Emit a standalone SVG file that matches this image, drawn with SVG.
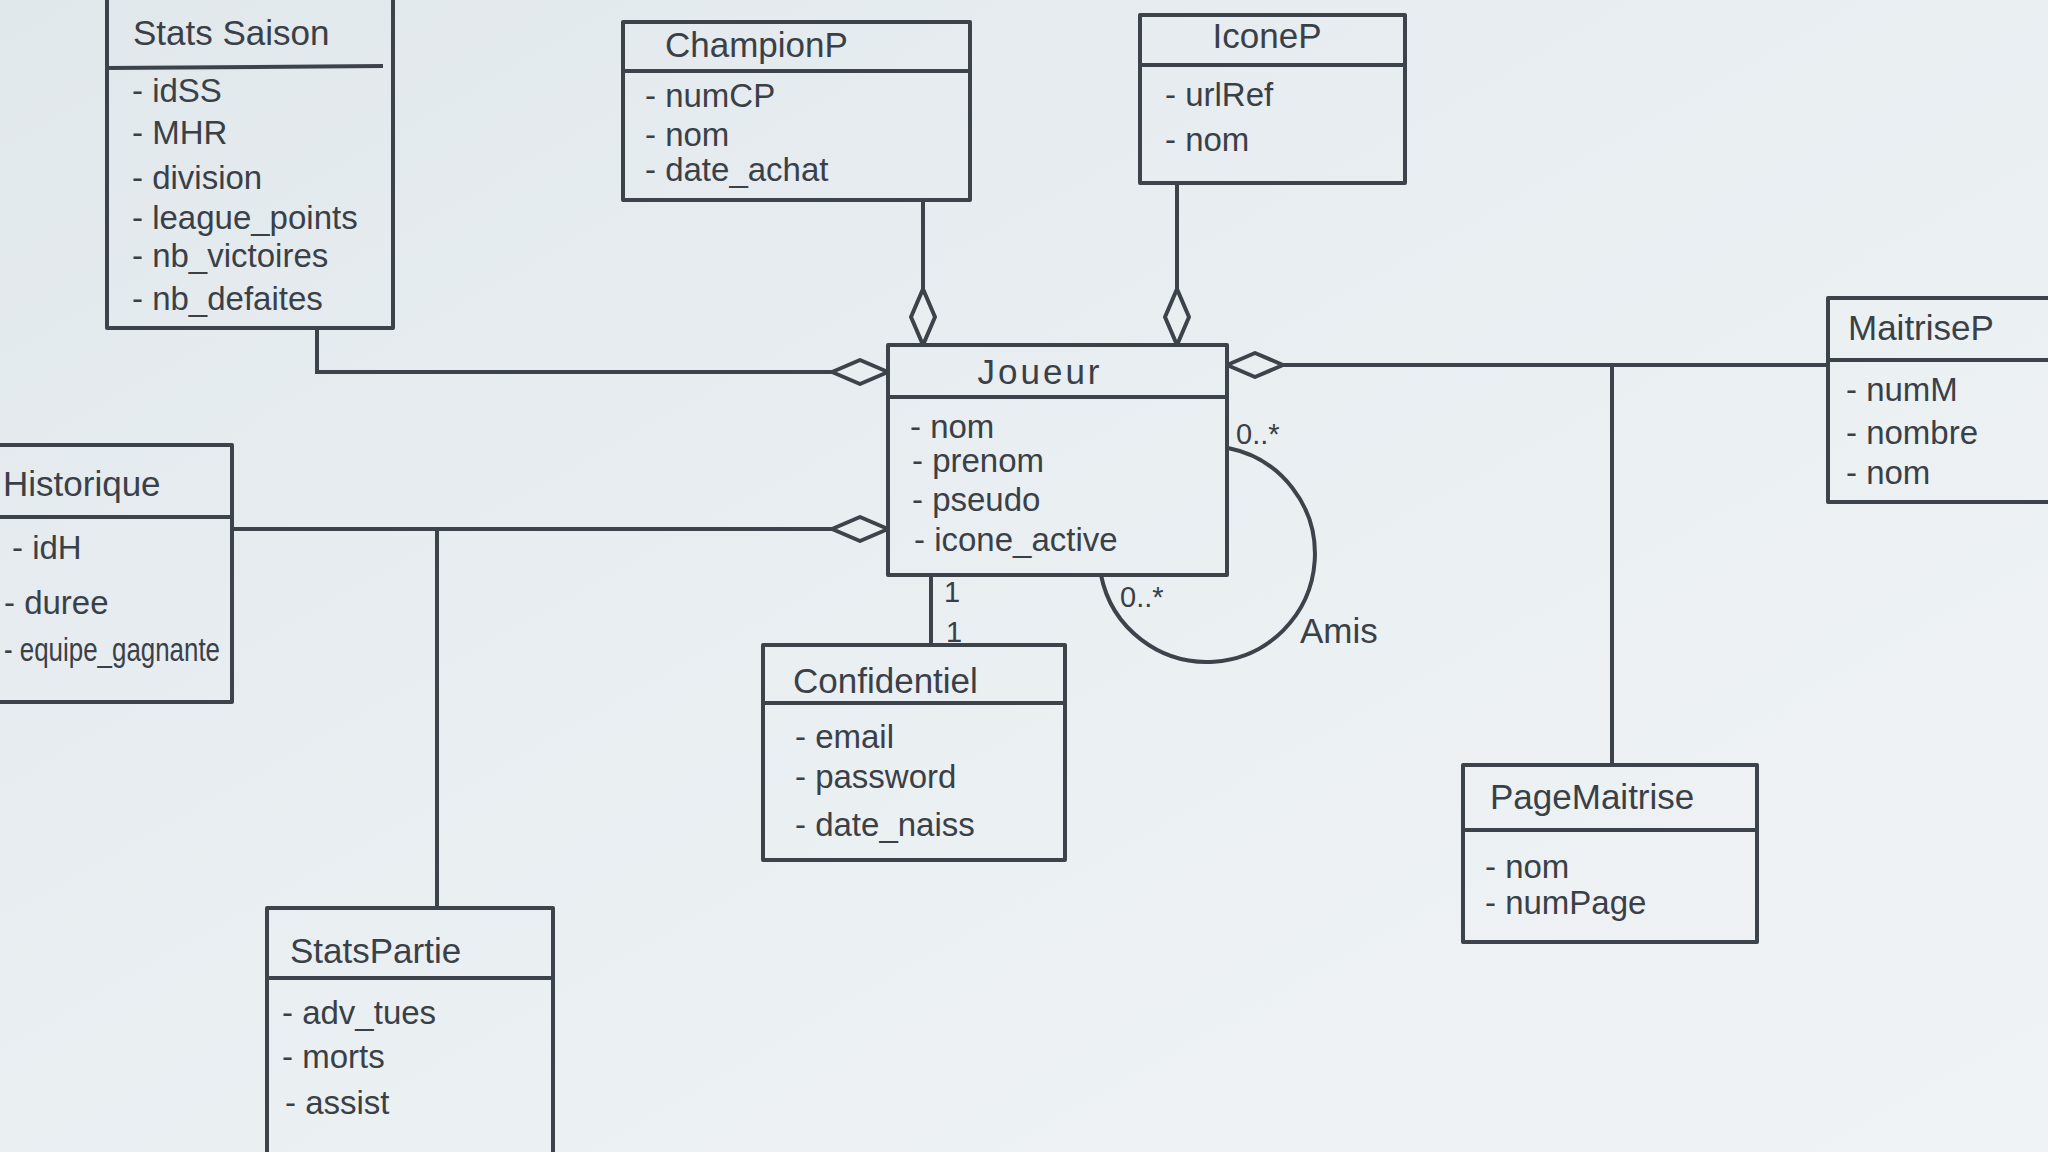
<svg xmlns="http://www.w3.org/2000/svg" width="2048" height="1152" viewBox="0 0 2048 1152">
<defs>
<linearGradient id="bg" x1="0" y1="0" x2="1" y2="1">
<stop offset="0" stop-color="#e1e8ec"/>
<stop offset="0.6" stop-color="#ebf0f3"/>
<stop offset="1" stop-color="#f0f3f5"/>
</linearGradient>
<marker id="agg" markerUnits="userSpaceOnUse" markerWidth="60" markerHeight="30" viewBox="0 0 60 30" refX="58" refY="15" orient="auto">
<path d="M2 15 L30 3 L58 15 L30 27 Z" fill="#e9eef1" stroke="#3d434b" stroke-width="4" stroke-linejoin="round"/>
</marker>
</defs>
<style>
.box{fill:none;stroke:#3d434b;stroke-width:4;stroke-linejoin:round}
.line{fill:none;stroke:#3d434b;stroke-width:4}
.t{font-family:"Liberation Sans","DejaVu Sans",sans-serif;fill:#3a4047;font-size:33px}
.h{font-family:"Liberation Sans","DejaVu Sans",sans-serif;fill:#3a4047;font-size:35px}
.m{font-family:"Liberation Sans","DejaVu Sans",sans-serif;fill:#3a4047;font-size:29px}
</style>
<rect x="0" y="0" width="2048" height="1152" fill="url(#bg)"/>

<g id="connectors">
<path class="line" d="M317 328 V372 H888" marker-end="url(#agg)"/>
<path class="line" d="M923 200 V345" marker-end="url(#agg)"/>
<path class="line" d="M1177 183 V345" marker-end="url(#agg)"/>
<path class="line" d="M1828 365 H1227" marker-end="url(#agg)"/>
<path class="line" d="M1612 365 V765"/>
<path class="line" d="M232 529 H888" marker-end="url(#agg)"/>
<path class="line" d="M437 529 V908"/>
<path class="line" d="M931 575 V645"/>
<path class="line" d="M1228 448 A108 108 0 1 1 1101 575"/>
<text class="m" x="944" y="602">1</text>
<text class="m" x="946" y="642">1</text>
<text class="m" x="1236" y="444">0..*</text>
<text class="m" x="1120" y="607">0..*</text>
<text class="h" x="1300" y="643">Amis</text>
</g>

<g id="StatsSaison">
<path class="box" d="M107 -4 V328 H393 V-4"/>
<line class="line" x1="107" y1="68" x2="383" y2="66"/>
<text class="h" x="133" y="45">Stats Saison</text>
<text class="t" x="132" y="102">- idSS</text>
<text class="t" x="132" y="144">- MHR</text>
<text class="t" x="132" y="189">- division</text>
<text class="t" x="132" y="229">- league_points</text>
<text class="t" x="132" y="267">- nb_victoires</text>
<text class="t" x="132" y="310">- nb_defaites</text>
</g>

<g id="ChampionP">
<rect class="box" x="623" y="22" width="347" height="178"/>
<line class="line" x1="623" y1="71" x2="970" y2="71"/>
<text class="h" x="665" y="57">ChampionP</text>
<text class="t" x="645" y="107">- numCP</text>
<text class="t" x="645" y="146">- nom</text>
<text class="t" x="645" y="181">- date_achat</text>
</g>

<g id="IconeP">
<rect class="box" x="1140" y="15" width="265" height="168"/>
<line class="line" x1="1140" y1="65" x2="1405" y2="65"/>
<text class="h" x="1267" y="48" text-anchor="middle">IconeP</text>
<text class="t" x="1165" y="106">- urlRef</text>
<text class="t" x="1165" y="151">- nom</text>
</g>

<g id="Joueur">
<rect class="box" x="888" y="345" width="339" height="230"/>
<line class="line" x1="888" y1="397" x2="1227" y2="397"/>
<text class="h" x="1040" y="384" text-anchor="middle" letter-spacing="3">Joueur</text>
<text class="t" x="910" y="438">-  nom</text>
<text class="t" x="912" y="472">-  prenom</text>
<text class="t" x="912" y="511">- pseudo</text>
<text class="t" x="914" y="551">- icone_active</text>
</g>

<g id="MaitriseP">
<path class="box" d="M2052 298 H1828 V502 H2052"/>
<line class="line" x1="1828" y1="360" x2="2052" y2="360"/>
<text class="h" x="1848" y="340">MaitriseP</text>
<text class="t" x="1846" y="401">- numM</text>
<text class="t" x="1846" y="444">- nombre</text>
<text class="t" x="1846" y="484">- nom</text>
</g>

<g id="Historique">
<path class="box" d="M-4 445 H232 V702 H-4"/>
<line class="line" x1="-4" y1="517" x2="232" y2="517"/>
<text class="h" x="3" y="496">Historique</text>
<text class="t" x="12" y="559">- idH</text>
<text class="t" x="4" y="614">- duree</text>
<text class="t" x="4" y="661" textLength="216" lengthAdjust="spacingAndGlyphs">- equipe_gagnante</text>
</g>

<g id="Confidentiel">
<rect class="box" x="763" y="645" width="302" height="215"/>
<line class="line" x1="763" y1="703" x2="1065" y2="703"/>
<text class="h" x="793" y="693">Confidentiel</text>
<text class="t" x="795" y="748">- email</text>
<text class="t" x="795" y="788">- password</text>
<text class="t" x="795" y="836">- date_naiss</text>
</g>

<g id="PageMaitrise">
<rect class="box" x="1463" y="765" width="294" height="177"/>
<line class="line" x1="1463" y1="830" x2="1757" y2="830"/>
<text class="h" x="1490" y="809">PageMaitrise</text>
<text class="t" x="1485" y="878">- nom</text>
<text class="t" x="1485" y="914">- numPage</text>
</g>

<g id="StatsPartie">
<path class="box" d="M267 1156 V908 H553 V1156"/>
<line class="line" x1="267" y1="978" x2="553" y2="978"/>
<text class="h" x="290" y="963">StatsPartie</text>
<text class="t" x="282" y="1024">- adv_tues</text>
<text class="t" x="282" y="1068">- morts</text>
<text class="t" x="285" y="1114">- assist</text>
</g>
</svg>
